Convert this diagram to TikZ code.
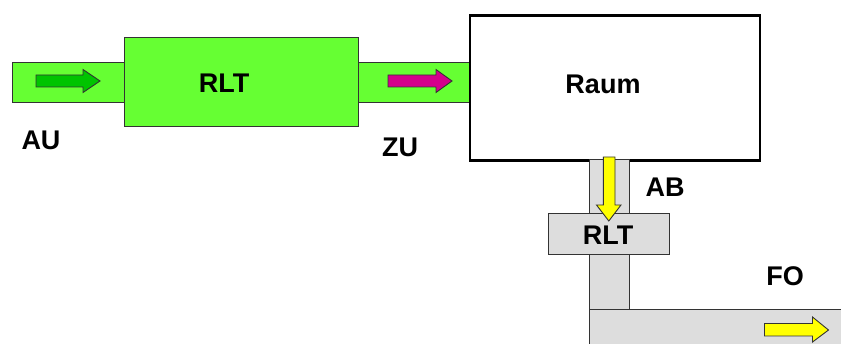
\documentclass[tikz,border=0pt]{standalone}
\usepackage{fontspec}
\setmainfont{Liberation Sans}
\definecolor{ductgreen}{HTML}{66FF33}
\definecolor{arrgreen}{HTML}{00C400}
\definecolor{arrmag}{HTML}{D4008C}
\definecolor{ductgray}{HTML}{DDDDDD}
\definecolor{arryellow}{HTML}{FFFF00}
\begin{document}
\begin{tikzpicture}[x=1pt,y=-1pt,
  duct/.style={draw=black!80,line width=0.9pt},
  lbl/.style={font=\fontsize{27}{27}\selectfont\bfseries,inner sep=0pt},
  flow/.style={draw=black!80,line width=0.9pt}]
\useasboundingbox (0,0) rectangle (841,344);
\clip (0,0) rectangle (841,344);
% left ducts
\path[duct,fill=ductgreen] (12,62) rectangle (125,102);
\path[duct,fill=ductgreen] (357,62) rectangle (469,102);
\node[duct,fill=ductgreen,minimum width=234pt,minimum height=89pt,anchor=north west] (rlt1) at (124,37) {};
\node[lbl] at (224,83) {RLT};
% arrows
\path[flow,fill=arrgreen] (36,75) -- (83,75) -- (83,69.5) -- (100,81) -- (83,92.5) -- (83,87) -- (36,87) -- cycle;
\path[flow,fill=arrmag] (388,75) -- (436,75) -- (436,69.5) -- (452,81) -- (436,92.5) -- (436,87) -- (388,87) -- cycle;
% labels
\node[lbl] (au) at (41,140) {AU};
\node[lbl] (zu) at (400,147) {ZU};
% room
\node[draw=black,line width=2.6pt,fill=white,minimum width=290pt,minimum height=145pt,anchor=north west] (raum) at (468.5,14.5) {};
\node[lbl] at (603,84) {Raum};
% exhaust
\path[duct,fill=ductgray] (589,309) rectangle (850,350);
\path[duct,fill=ductgray] (589,159) rectangle (629,309.5);
\node[duct,fill=ductgray,minimum width=121pt,minimum height=41pt,anchor=north west] (rlt2) at (548.3,213.3) {};
\node[lbl] at (608,235) {RLT};
\path[flow,fill=arryellow] (603.3,157) -- (615,157) -- (615,205) -- (621,205) -- (608.8,221) -- (596.5,205) -- (603.3,205) -- cycle;
\path[flow,fill=arryellow] (764.5,323.5) -- (812.5,323.5) -- (812.5,317) -- (828.5,330) -- (812.5,342) -- (812.5,336) -- (764.5,336) -- cycle;
\node[lbl] (ab) at (665,187) {AB};
\node[lbl] (fo) at (785,276) {FO};
\end{tikzpicture}
\end{document}
